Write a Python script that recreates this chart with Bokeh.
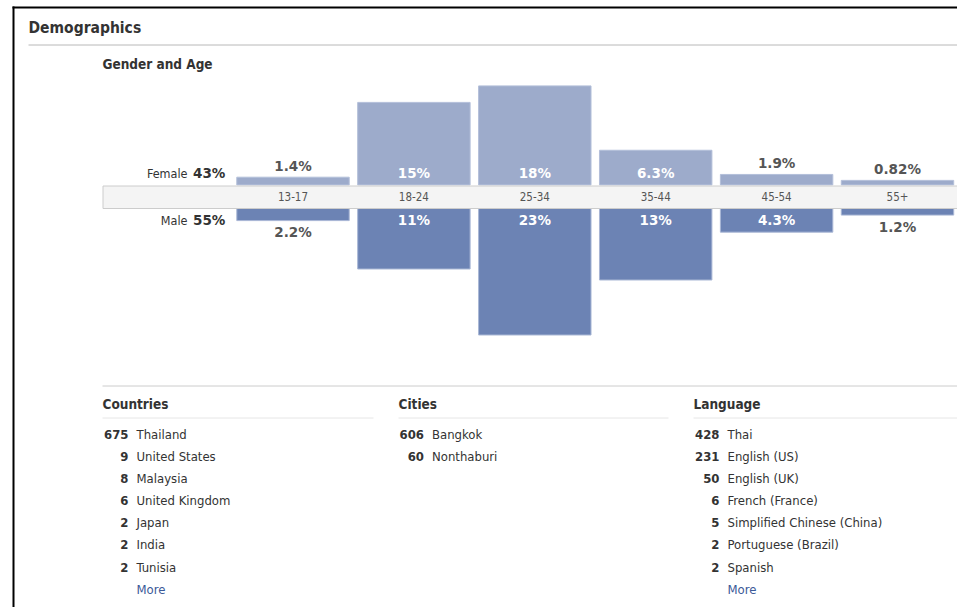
from bokeh.plotting import figure
from bokeh.models import Range1d, ColumnDataSource
from bokeh.core.properties import value
from bokeh.embed import file_html
from bokeh.resources import INLINE

# ---------------- data ----------------
ages = ["13-17", "18-24", "25-34", "35-44", "45-54", "55+"]
female_pct = [1.4, 15, 18, 6.3, 1.9, 0.82]
male_pct = [2.2, 11, 23, 13, 4.3, 1.2]
gender_names = ["Female", "Male"]
gender_share = [43, 55]

country_names = ["Thailand", "United States", "Malaysia", "United Kingdom", "Japan", "India", "Tunisia"]
country_counts = [675, 9, 8, 6, 2, 2, 2]
city_names = ["Bangkok", "Nonthaburi"]
city_counts = [606, 60]
language_names = ["Thai", "English (US)", "English (UK)", "French (France)",
                  "Simplified Chinese (China)", "Portuguese (Brazil)", "Spanish"]
language_counts = [428, 231, 50, 6, 5, 2, 2]

# ---------------- style ----------------
FONT = "DejaVu Sans Condensed"
FONT_B = "DejaVu Sans"
TXT = "#333333"
FEMALE = "#9dabcb"
MALE = "#6c83b4"
LINK = "#3b5998"

W, H = 957, 607
DY = -5.5   # text baseline correction

p = figure(width=W, height=H,
           x_range=Range1d(0, W), y_range=Range1d(H, 0),
           output_backend="svg", toolbar_location=None,
           x_axis_location=None, y_axis_location=None,
           min_border=0, outline_line_color=None)
p.grid.visible = False
p.background_fill_color = "white"
p.border_fill_color = "white"

# scales for the bar chart (percent -> pixels)
K = 5.5                 # px per percent
ZF, ZM = 184.4, 208.0   # zero lines of female / male bars
X0, STEP = 292.5, 120.9
p.extra_y_ranges = {
    "fem": Range1d((ZF - H) / K, ZF / K),
    "male": Range1d((ZM - H) / K, ZM / K),
}
p.extra_x_ranges = {"age": Range1d(-X0 / STEP, (W - X0) / STEP)}

# ---------------- frame & headers ----------------
p.segment(x0=[13, 12], y0=[6, 7], x1=[13, 970], y1=[620, 7], line_color="black", line_width=2)
p.text(x=[28], y=[33 + DY], text=["Demographics"], text_font=value(FONT), text_font_style="bold",
       text_font_size="15.5px", text_color=TXT, text_baseline="alphabetic")
p.segment(x0=[28], y0=[44.5], x1=[966], y1=[44.5], line_color="#b8b8b8", line_width=1)
p.text(x=[102], y=[68.5 + DY], text=["Gender and Age"], text_font=value(FONT), text_font_style="bold",
       text_font_size="13.5px", text_color=TXT, text_baseline="alphabetic")

# ---------------- bars ----------------
idx = list(range(len(ages)))
bars = ColumnDataSource(dict(
    idx=idx, age=ages,
    f=female_pct, m=[-v for v in male_pct],
    f_lab=[f"{v:g}%" for v in female_pct],
    m_lab=[f"{v:g}%" for v in male_pct],
    f_y=[0 if v >= 3 else v for v in female_pct],
    m_y=[0 if v >= 3 else -v for v in male_pct],
    f_col=["white" if v >= 3 else "#555555" for v in female_pct],
    m_col=["white" if v >= 3 else "#555555" for v in male_pct],
))
p.vbar(x="idx", top="f", bottom=0, width=0.93, source=bars, x_range_name="age", y_range_name="fem",
       fill_color=FEMALE, line_color="#b3bfd9", line_width=1)
p.vbar(x="idx", top=0, bottom="m", width=0.93, source=bars, x_range_name="age", y_range_name="male",
       fill_color=MALE, line_color="#a9b7d5", line_width=1)

# axis band
p.quad(left=[102.5], right=[968], top=[185.5], bottom=[208], fill_color="#f4f4f4", line_color="#cccccc")
p.text(x="idx", y=201.7 + DY, text="age", source=bars, x_range_name="age",
       text_font=value(FONT), text_font_size="11.5px", text_color="#555555",
       text_align="center", text_baseline="alphabetic")

# value labels
p.text(x="idx", y="f_y", text="f_lab", source=bars, x_range_name="age", y_range_name="fem",
       y_offset=-6 + DY, text_font=value(FONT_B), text_font_style="bold", text_font_size="13.5px",
       text_color="f_col", text_align="center", text_baseline="alphabetic")
p.text(x="idx", y="m_y", text="m_lab", source=bars, x_range_name="age", y_range_name="male",
       y_offset=17 + DY, text_font=value(FONT_B), text_font_style="bold", text_font_size="13.5px",
       text_color="m_col", text_align="center", text_baseline="alphabetic")

# gender labels
for name, share, rng, off in zip(gender_names, gender_share, ["fem", "male"], [-6 + DY, 17 + DY]):
    p.text(x=[187], y=[0], text=[name], y_range_name=rng, y_offset=off,
           text_font=value(FONT), text_font_size="12.5px", text_color=TXT,
           text_align="right", text_baseline="alphabetic")
    p.text(x=[192.5], y=[0], text=[f"{share}%"], y_range_name=rng, y_offset=off,
           text_font=value(FONT_B), text_font_style="bold", text_font_size="13.5px", text_color=TXT,
           text_align="left", text_baseline="alphabetic")

# ---------------- lists ----------------
p.segment(x0=[102], y0=[385.5], x1=[966], y1=[385.5], line_color="#cccccc", line_width=1)

ROW0, ROWH = 439.4 + DY, 22.1
columns = [
    ("Countries", 102, 373, 128, country_names, country_counts, True),
    ("Cities", 398, 668, 423.5, city_names, city_counts, False),
    ("Language", 693, 966, 719, language_names, language_counts, True),
]
for title, x_left, x_right, num_x, names, counts, more in columns:
    p.text(x=[x_left], y=[409.3 + DY], text=[title], text_font=value(FONT), text_font_style="bold",
           text_font_size="13.5px", text_color=TXT, text_baseline="alphabetic")
    p.segment(x0=[x_left], y0=[417.5], x1=[x_right], y1=[417.5], line_color="#e6e6e6", line_width=1)
    ys = [ROW0 + i * ROWH for i in range(len(names))]
    p.text(x=[num_x] * len(names), y=ys, text=[str(c) for c in counts],
           text_font=value(FONT), text_font_style="bold", text_font_size="13px", text_color=TXT,
           text_align="right", text_baseline="alphabetic")
    p.text(x=[num_x + 8] * len(names), y=ys, text=names,
           text_font=value(FONT), text_font_size="13px", text_color=TXT,
           text_align="left", text_baseline="alphabetic")
    if more:
        p.text(x=[num_x + 8], y=[ROW0 + len(names) * ROWH], text=["More"],
               text_font=value(FONT), text_font_size="13px", text_color=LINK,
               text_align="left", text_baseline="alphabetic")

open("out.html", "w").write(file_html(p, INLINE))
